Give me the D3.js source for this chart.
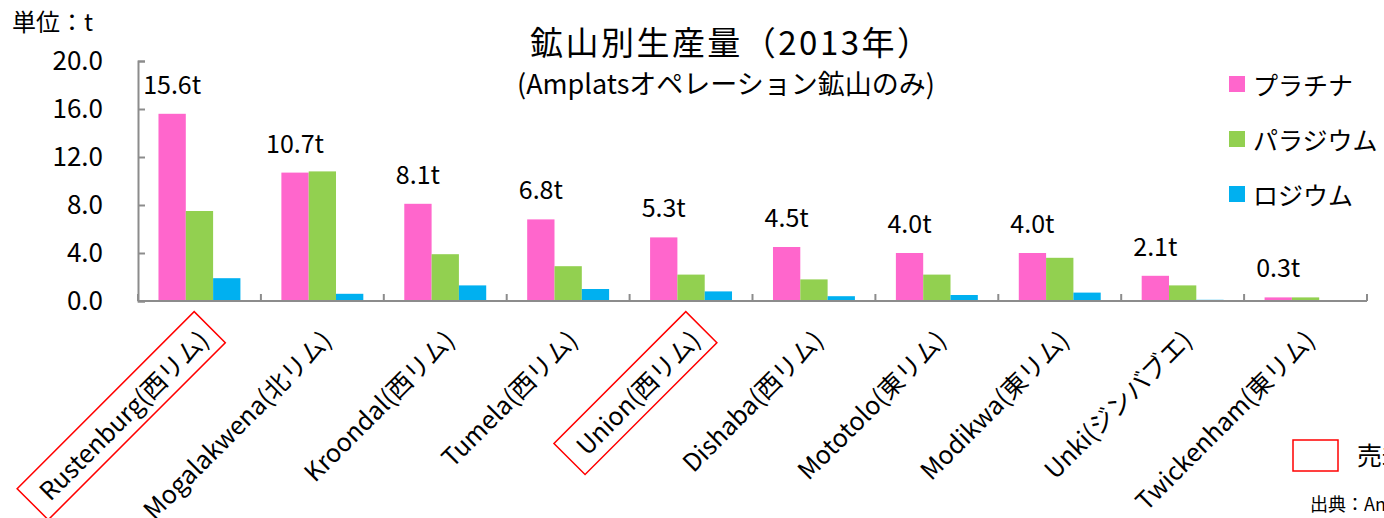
<!DOCTYPE html>
<html>
<head>
<meta charset="utf-8">
<script src="https://cdn.jsdelivr.net/npm/d3@7"></script>
<style>
  html, body { margin: 0; padding: 0; background: #fff; overflow: hidden; }
  svg { display: block; font-family: "Noto Sans CJK JP", "Noto Sans", sans-serif; }
</style>
</head>
<body>
<div id="chart"></div>
<script>
// data (unit: t)
var mines = ["Rustenburg(西リム)", "Mogalakwena(北リム)", "Kroondal(西リム)", "Tumela(西リム)", "Union(西リム)",
             "Dishaba(西リム)", "Mototolo(東リム)", "Modikwa(東リム)", "Unki(ジンバブエ)", "Twickenham(東リム)"];
var platinum  = [15.6, 10.7, 8.1, 6.8, 5.3, 4.5, 4.0, 4.0, 2.1, 0.3];
var palladium = [7.5, 10.8, 3.9, 2.9, 2.2, 1.8, 2.2, 3.6, 1.3, 0.3];
var rhodium   = [1.9, 0.6, 1.3, 1.0, 0.8, 0.4, 0.5, 0.7, 0.1, 0.0];
var seriesNames = ["プラチナ", "パラジウム", "ロジウム"];
var seriesColors = ["#ff66cc", "#92d050", "#00b0f0"];
var yTicks = [0, 4, 8, 12, 16, 20];
var forSale = ["Rustenburg(西リム)", "Union(西リム)"];

var width = 1384, height = 518;
var plotL = 138, plotR = 1367, plotT = 61, plotB = 301;

var svg = d3.select("#chart").append("svg")
    .attr("width", width)
    .attr("height", height);

var x = d3.scaleBand().domain(mines).range([plotL, plotR]);
var xSub = d3.scaleBand().domain(seriesNames).range([0, x.bandwidth()]).paddingOuter(0.75);
var y = d3.scaleLinear().domain([0, 20]).range([plotB, plotT]);

var rows = mines.map(function (m, i) {
    return { mine: m, values: [platinum[i], palladium[i], rhodium[i]] };
});

// bars
var groups = svg.selectAll(".grp")
    .data(rows)
    .enter()
    .append("g")
    .attr("class", "grp")
    .attr("transform", function (d) { return "translate(" + x(d.mine) + ",0)"; });

groups.selectAll("rect")
    .data(function (d) { return d.values.map(function (v, k) { return { k: k, v: v }; }); })
    .enter()
    .append("rect")
    .attr("x", function (d) { return xSub(seriesNames[d.k]); })
    .attr("width", xSub.bandwidth())
    .attr("y", function (d) { return y(d.v); })
    .attr("height", function (d) { return y(0) - y(d.v); })
    .attr("fill", function (d) { return seriesColors[d.k]; });

// platinum value labels
groups.append("text")
    .attr("x", xSub(seriesNames[0]) + xSub.bandwidth() / 2)
    .attr("y", function (d) { return y(d.values[0]) - 20; })
    .attr("text-anchor", "middle")
    .style("font-size", "25px")
    .text(function (d) { return d.values[0].toFixed(1) + "t"; });

// y axis
var yAxis = d3.axisLeft(y)
    .tickValues(yTicks)
    .tickSize(-7)
    .tickPadding(35)
    .tickFormat(d3.format(".1f"));
var ya = svg.append("g")
    .attr("transform", "translate(" + plotL + ",0)")
    .call(yAxis);
ya.select(".domain").attr("stroke", "#8c8c8c").attr("stroke-width", 2);
ya.selectAll(".tick line").attr("stroke", "#8c8c8c").attr("stroke-width", 2);
ya.selectAll(".tick text")
    .style("font-size", "26px")
    .style("font-family", "'Noto Sans CJK JP', sans-serif")
    .attr("fill", "#000");

// x axis baseline + inside ticks at category boundaries
svg.append("line")
    .attr("x1", plotL).attr("x2", plotR)
    .attr("y1", y(0)).attr("y2", y(0))
    .attr("stroke", "#8c8c8c").attr("stroke-width", 2);
var bounds = mines.map(function (m) { return x(m); }).concat([plotR]);
svg.selectAll(".xtick")
    .data(bounds)
    .enter()
    .append("line")
    .attr("x1", function (d) { return d; }).attr("x2", function (d) { return d; })
    .attr("y1", y(0)).attr("y2", y(0) - 7)
    .attr("stroke", "#8c8c8c").attr("stroke-width", 2);

// rotated category labels
var xl = svg.selectAll(".xlab")
    .data(mines)
    .enter()
    .append("g")
    .attr("class", "xlab")
    .attr("transform", function (d) {
        return "translate(" + (x(d) + x.bandwidth() / 2 + 11) + "," + 342 + ") rotate(-45)";
    });
xl.append("text")
    .attr("text-anchor", "end")
    .style("font-size", "25px")
    .text(function (d) { return d; });
xl.filter(function (d) { return forSale.indexOf(d) >= 0; })
    .each(function () {
        var g = d3.select(this);
        var b = g.select("text").node().getBBox();
        g.append("rect")
            .attr("x", b.x - 14)
            .attr("y", b.y - 4)
            .attr("width", b.width + 24)
            .attr("height", b.height + 8)
            .attr("fill", "none")
            .attr("stroke", "#ff0000")
            .attr("stroke-width", 1.5);
    });

// titles
svg.append("text")
    .attr("x", 730).attr("y", 55)
    .attr("text-anchor", "middle")
    .attr("textLength", 400)
    .attr("lengthAdjust", "spacing")
    .style("font-size", "33px")
    .text("鉱山別生産量（2013年）");
svg.append("text")
    .attr("x", 726).attr("y", 94)
    .attr("text-anchor", "middle")
    .style("font-size", "27px")
    .text("(Amplatsオペレーション鉱山のみ)");
svg.append("text")
    .attr("x", 12).attr("y", 31)
    .style("font-size", "24px")
    .text("単位：t");

// legend
var lg = svg.selectAll(".leg")
    .data(seriesNames)
    .enter()
    .append("g")
    .attr("class", "leg")
    .attr("transform", function (d, i) { return "translate(1229," + (76 + i * 55) + ")"; });
lg.append("rect")
    .attr("width", 16).attr("height", 16)
    .attr("fill", function (d, i) { return seriesColors[i]; });
lg.append("text")
    .attr("x", 24).attr("y", 8)
    .attr("dominant-baseline", "central")
    .style("font-size", "25px")
    .text(function (d) { return d; });

// bottom-right notes (cut off at the page edge, as in the source)
svg.append("rect")
    .attr("x", 1293).attr("y", 440)
    .attr("width", 45).attr("height", 31)
    .attr("fill", "none")
    .attr("stroke", "#ff0000")
    .attr("stroke-width", 1.5);
svg.append("text")
    .attr("x", 1357).attr("y", 465)
    .style("font-size", "25px")
    .text("売却予定");
svg.append("text")
    .attr("x", 1310).attr("y", 511)
    .style("font-size", "18px")
    .text("出典：Anglo American Platinum");
</script>
</body>
</html>
